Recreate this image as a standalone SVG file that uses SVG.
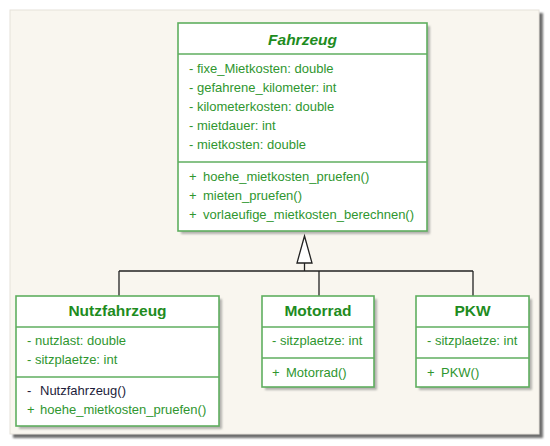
<svg xmlns="http://www.w3.org/2000/svg" width="550" height="446" viewBox="0 0 550 446">
<defs>
<style>
.box{fill:#ffffff;stroke:#5fae5f;stroke-width:1.6}
.sep{stroke:#5fae5f;stroke-width:1.4}
.shadow{fill:#7a7a7a;opacity:0.55}
.title{font-family:"Liberation Sans",Arial,sans-serif;font-size:15.5px;font-weight:bold;fill:#1e8c1e;text-anchor:middle}
.txt{font-family:"Liberation Sans",Arial,sans-serif;font-size:13px;fill:#2f962f}
.ctor{fill:#1c1c3a}
.conn{stroke:#222222;stroke-width:1.3;fill:none}
</style>
<filter id="blur" x="-10%" y="-10%" width="130%" height="130%"><feGaussianBlur stdDeviation="1.2"/></filter>
</defs>
<rect x="0" y="0" width="550" height="446" fill="#ffffff"/>
<rect x="13" y="13" width="530" height="425" fill="#6e6e6e" filter="url(#blur)"/>
<rect x="10" y="10" width="529" height="424" fill="#f9f6ef" stroke="#e6e2da" stroke-width="1"/>
<g id="connectors">
<polygon points="304.5,236 297,263 312,263" fill="#ffffff" stroke="#222222" stroke-width="1.3"/>
<line class="conn" x1="304.5" y1="263" x2="304.5" y2="271"/>
<line class="conn" x1="119" y1="271" x2="473" y2="271"/>
<line class="conn" x1="119" y1="271" x2="119" y2="296"/>
<line class="conn" x1="319" y1="271" x2="319" y2="296"/>
<line class="conn" x1="473" y1="271" x2="473" y2="296"/>
</g>
<g id="Fahrzeug">
<rect class="shadow" x="181" y="26" width="249" height="208" filter="url(#blur)"/>
<rect class="box" x="178" y="23" width="249" height="208"/>
<line class="sep" x1="178" y1="54" x2="427" y2="54"/>
<line class="sep" x1="178" y1="162" x2="427" y2="162"/>
<text class="title" x="302.5" y="45" font-style="italic">Fahrzeug</text>
<text class="txt" x="189" y="73">- fixe_Mietkosten: double</text>
<text class="txt" x="189" y="92">- gefahrene_kilometer: int</text>
<text class="txt" x="189" y="111">- kilometerkosten: double</text>
<text class="txt" x="189" y="130">- mietdauer: int</text>
<text class="txt" x="189" y="149">- mietkosten: double</text>
<text class="txt" x="189" y="181">+</text><text class="txt" x="203" y="181">hoehe_mietkosten_pruefen()</text>
<text class="txt" x="189" y="200">+</text><text class="txt" x="203" y="200">mieten_pruefen()</text>
<text class="txt" x="189" y="219">+</text><text class="txt" x="203" y="219">vorlaeufige_mietkosten_berechnen()</text>
</g>
<g id="Nutzfahrzeug">
<rect class="shadow" x="19" y="299" width="203" height="130" filter="url(#blur)"/>
<rect class="box" x="16" y="296" width="203" height="130"/>
<line class="sep" x1="16" y1="327" x2="219" y2="327"/>
<line class="sep" x1="16" y1="377" x2="219" y2="377"/>
<text class="title" x="117.5" y="316">Nutzfahrzeug</text>
<text class="txt" x="27" y="345">- nutzlast: double</text>
<text class="txt" x="27" y="364">- sitzplaetze: int</text>
<text class="txt ctor" x="27" y="395">-</text><text class="txt ctor" x="40" y="395">Nutzfahrzeug()</text>
<text class="txt" x="27" y="414">+</text><text class="txt" x="40" y="414">hoehe_mietkosten_pruefen()</text>
</g>
<g id="Motorrad">
<rect class="shadow" x="265" y="299" width="112" height="91" filter="url(#blur)"/>
<rect class="box" x="262" y="296" width="112" height="91"/>
<line class="sep" x1="262" y1="327" x2="374" y2="327"/>
<line class="sep" x1="262" y1="358" x2="374" y2="358"/>
<text class="title" x="318" y="316">Motorrad</text>
<text class="txt" x="272" y="345">- sitzplaetze: int</text>
<text class="txt" x="272" y="377">+</text><text class="txt" x="286" y="377">Motorrad()</text>
</g>
<g id="PKW">
<rect class="shadow" x="419" y="299" width="113" height="91" filter="url(#blur)"/>
<rect class="box" x="416" y="296" width="113" height="91"/>
<line class="sep" x1="416" y1="327" x2="529" y2="327"/>
<line class="sep" x1="416" y1="358" x2="529" y2="358"/>
<text class="title" x="472.5" y="316">PKW</text>
<text class="txt" x="427" y="345">- sitzplaetze: int</text>
<text class="txt" x="427" y="377">+</text><text class="txt" x="441" y="377">PKW()</text>
</g>
</svg>
